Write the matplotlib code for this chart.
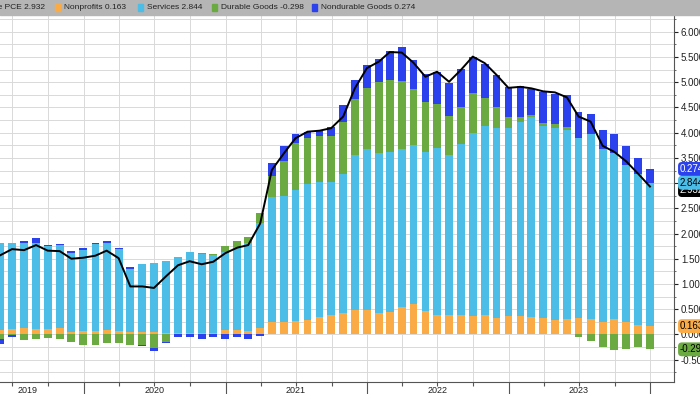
import numpy as np
import pandas as pd
import matplotlib
matplotlib.use('Agg')
import matplotlib.pyplot as plt
import matplotlib.dates as mdates
from matplotlib.ticker import MultipleLocator, FormatStrFormatter
from matplotlib.patches import Rectangle
from matplotlib.transforms import blended_transform_factory

plt.rcParams['font.family'] = ['Liberation Sans', 'DejaVu Sans']

# monthly contributions, May 2019 .. Dec 2023
months = pd.period_range('2019-05', '2023-12', freq='M')

nonprofits = [0.08, 0.11, 0.12, 0.11, 0.11, 0.12, 0.05, 0.07, 0.07, 0.09, 0.07, 0.05,
              0.04, 0.04, 0.02, 0.02, 0.02, 0.02, 0.03, 0.09, 0.09, 0.07, 0.12, 0.24,
              0.24, 0.26, 0.28, 0.34, 0.38, 0.43, 0.48, 0.48, 0.43, 0.45, 0.54, 0.60,
              0.47, 0.38, 0.38, 0.39, 0.37, 0.38, 0.32, 0.36, 0.36, 0.34, 0.32, 0.29,
              0.30, 0.33, 0.31, 0.25, 0.30, 0.25, 0.19, 0.163]
services = [1.74, 1.71, 1.70, 1.71, 1.64, 1.65, 1.57, 1.60, 1.72, 1.72, 1.62, 1.25,
            1.36, 1.37, 1.44, 1.51, 1.61, 1.57, 1.54, 1.54, 1.65, 1.75, 2.08, 2.48,
            2.51, 2.60, 2.70, 2.69, 2.65, 2.75, 3.07, 3.19, 3.17, 3.17, 3.13, 3.16,
            3.15, 3.31, 3.17, 3.38, 3.62, 3.75, 3.78, 3.73, 3.86, 3.98, 3.81, 3.81,
            3.75, 3.56, 3.67, 3.42, 3.30, 3.11, 2.99, 2.844]
durable = [-0.10, -0.01, -0.11, -0.10, -0.08, -0.09, -0.15, -0.21, -0.22, -0.18, -0.18, -0.21,
           -0.21, -0.28, -0.15, 0.00, 0.00, 0.03, 0.03, 0.13, 0.11, 0.12, 0.20, 0.42,
           0.69, 0.93, 0.91, 0.91, 0.91, 1.03, 1.12, 1.22, 1.40, 1.42, 1.36, 1.11,
           0.99, 0.88, 0.79, 0.73, 0.79, 0.56, 0.40, 0.22, 0.09, 0.03, 0.07, 0.07,
           0.07, -0.06, -0.13, -0.25, -0.31, -0.30, -0.26, -0.298]
nondurable = [-0.09, -0.05, 0.03, 0.09, 0.015, 0.03, 0.03, 0.05, 0.03, 0.04, 0.02, 0.03,
              -0.03, -0.05, -0.03, -0.05, -0.05, -0.10, -0.05, -0.10, -0.05, -0.09, -0.03, 0.25,
              0.29, 0.18, 0.13, 0.12, 0.17, 0.34, 0.38, 0.45, 0.46, 0.58, 0.68, 0.58,
              0.56, 0.64, 0.65, 0.76, 0.73, 0.68, 0.64, 0.59, 0.61, 0.52, 0.61, 0.59,
              0.62, 0.52, 0.40, 0.38, 0.38, 0.38, 0.32, 0.274]
core_pce = [1.57, 1.69, 1.67, 1.77, 1.66, 1.65, 1.50, 1.52, 1.56, 1.66, 1.51, 0.95,
            0.95, 0.92, 1.15, 1.37, 1.45, 1.39, 1.44, 1.61, 1.72, 1.77, 2.20, 3.26,
            3.59, 3.89, 4.02, 4.04, 4.09, 4.32, 4.88, 5.28, 5.41, 5.60, 5.59, 5.39,
            5.11, 5.21, 5.01, 5.25, 5.51, 5.38, 5.15, 4.89, 4.91, 4.88, 4.82, 4.80,
            4.70, 4.32, 4.22, 3.74, 3.62, 3.43, 3.19, 2.932]

years = ['2019', '2020', '2021', '2022', '2023']

c_np = '#fbab45'
c_sv = '#4cbde6'
c_du = '#6aaa40'
c_nd = '#2b41ee'
grid_c = '#d9d9d9'
axis_c = '#555555'
text_c = '#222222'

dates = months.to_timestamp(how='end').normalize()

fig = plt.figure(figsize=(7, 3.94), dpi=100)
ax = fig.add_axes([0, 12.3 / 394, 674 / 700, 366.7 / 394])

series = [(nonprofits, c_np), (services, c_sv), (durable, c_du), (nondurable, c_nd)]
pos = np.zeros(len(dates))
neg = np.zeros(len(dates))
for vals, col in series:
    v = np.array(vals)
    bottom = np.where(v >= 0, pos, neg)
    ax.bar(dates, v, width=20, bottom=bottom, color=col, linewidth=0, zorder=2)
    pos = pos + np.clip(v, 0, None)
    neg = neg + np.clip(v, None, 0)

ax.plot(dates, core_pce, color='black', lw=1.4, zorder=3)

# axes
ax.set_xlim(pd.Timestamp('2019-05-30'), pd.Timestamp('2024-03-02'))
ax.set_ylim(-0.94, 6.335)
ax.set_axisbelow(True)

ax.xaxis.set_major_locator(mdates.YearLocator())
ax.xaxis.set_minor_locator(mdates.MonthLocator(bymonth=[1, 4, 7, 10]))
ax.tick_params(axis='x', which='major', length=12, width=0.8, color=axis_c, labelbottom=False)
ax.tick_params(axis='x', which='minor', length=3, width=0.8, color=axis_c, labelbottom=False)

ax.yaxis.tick_right()
ax.yaxis.set_major_locator(MultipleLocator(0.5))
ax.yaxis.set_minor_locator(MultipleLocator(0.25))
ax.yaxis.set_major_formatter(FormatStrFormatter('%.3f'))
ax.tick_params(axis='y', which='major', length=3, width=0.8, pad=2, labelsize=7,
               colors=text_c)
ax.tick_params(axis='y', which='minor', length=1.5, width=0.6, color=axis_c)

ax.grid(True, which='both', axis='both', color=grid_c, lw=0.7)

for s in ['top', 'left']:
    ax.spines[s].set_visible(False)
for s in ['right', 'bottom']:
    ax.spines[s].set_color(axis_c)
    ax.spines[s].set_linewidth(0.8)

# year labels under the axis
year_pos = [pd.Timestamp('2019-08-08')] + [pd.Timestamp(f'{y}-07-01') for y in years[1:]]
xtr = ax.get_xaxis_transform()
for yp, lab in zip(year_pos, years):
    ax.text(yp, -0.013, lab, transform=xtr, ha='center', va='top', fontsize=6.5,
            color=text_c, clip_on=False)

# value tags on the right axis
ytr = blended_transform_factory(ax.transAxes, ax.transData)
tags = [
    (core_pce[-1] - 0.07, f'{core_pce[-1]:.3f}', 'black', 'white'),
    (nonprofits[-1] + services[-1], f'{services[-1]:.3f}', c_sv, 'black'),
    (nonprofits[-1] + services[-1] + nondurable[-1], f'{nondurable[-1]:.3f}', c_nd, 'white'),
    (nonprofits[-1], f'{nonprofits[-1]:.3f}', c_np, 'black'),
    (durable[-1], f'{durable[-1]:.3f}', c_du, 'black'),
]
for yv, lab, bg, fg in tags:
    ax.text(1.0 + 6 / 674, yv, lab, transform=ytr, ha='left', va='center', fontsize=7,
            color=fg, clip_on=False, zorder=5,
            bbox=dict(boxstyle='round,pad=0.2,rounding_size=0.4', fc=bg, ec='none'))

# legend strip at the top
fig.patches.append(Rectangle((0, 1 - 15 / 394), 1, 15 / 394, transform=fig.transFigure,
                             color='#b5b5b5', zorder=0))
ly = 1 - 7.5 / 394
fig.text(45 / 700, ly, f'Core PCE {core_pce[-1]:.3f}', ha='right', va='center',
         fontsize=6.0, color=text_c)
legend_items = [
    (55, f'Nonprofits {nonprofits[-1]:.3f}', c_np),
    (138, f'Services {services[-1]:.3f}', c_sv),
    (212, f'Durable Goods {durable[-1]:.3f}', c_du),
    (312, f'Nondurable Goods {nondurable[-1]:.3f}', c_nd),
]
for px, lab, col in legend_items:
    fig.patches.append(Rectangle((px / 700, 1 - 10.5 / 394), 5 / 700, 6 / 394,
                                 transform=fig.transFigure, color=col, zorder=1))
    fig.text((px + 9) / 700, ly, lab, ha='left', va='center', fontsize=6.0, color=text_c)

fig.savefig('out.png', dpi=100)
